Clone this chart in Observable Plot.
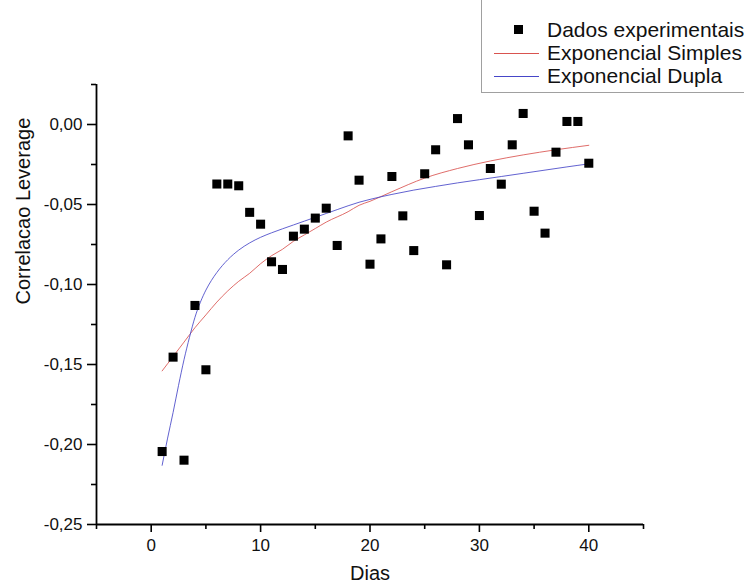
<!DOCTYPE html>
<html>
<head>
<meta charset="utf-8">
<script src="https://cdn.jsdelivr.net/npm/d3@7"></script>
<script src="https://cdn.jsdelivr.net/npm/@observablehq/plot@0.6"></script>
<style>
  html, body { margin: 0; padding: 0; background: #fff; overflow: hidden; }
  #wrap { position: relative; width: 744px; height: 588px; font-family: "Liberation Sans", Arial, sans-serif; }
  #legend { position: absolute; left: 481px; top: -12px; width: 300px; height: 103px; border: 1px solid #a0a0a0; background: #fff; }
  .row { position: absolute; left: 0; height: 23px; font-size: 21px; color: #111; white-space: nowrap; }
  .row span.t { position: absolute; left: 65px; top: 0; line-height: 23px; }
  .sq { position: absolute; left: 32px; top: 7px; width: 9px; height: 9px; background: #000; }
  .ln { position: absolute; left: 12px; width: 45px; top: 12px; height: 0; border-top-width: 1px; border-top-style: solid; }
</style>
</head>
<body>
<div id="wrap">
  <div id="chart"></div>
  <div id="legend"></div>
</div>
<script>
// Observed data (Dados experimentais)
const dias = [1,2,3,4,5,6,7,8,9,10,11,12,13,14,15,16,17,18,19,20,21,22,23,24,25,26,27,28,29,30,31,32,33,34,35,36,37,38,39,40];
const correlacao = [-0.2044,-0.1454,-0.2098,-0.1131,-0.1533,-0.0372,-0.0372,-0.0383,-0.0549,-0.0623,
  -0.0858,-0.0906,-0.0698,-0.0654,-0.0585,-0.0523,-0.0756,-0.0071,-0.0348,-0.0873,
  -0.0715,-0.0325,-0.0571,-0.0788,-0.0308,-0.0158,-0.0877,0.0037,-0.0127,-0.0569,
  -0.0275,-0.0373,-0.0127,0.0069,-0.0542,-0.0679,-0.0173,0.0019,0.0019,-0.0242];

// Exponencial Simples (red fitted curve)
const diasSimples = [1,2,3,4,5,6,7,8,9,10,11,12,13,14,15,16,18,19,20,22,25,28,31,34,37,40];
const simples = [-0.154,-0.145,-0.136,-0.127,-0.119,-0.111,-0.104,-0.098,-0.093,-0.087,-0.082,-0.078,-0.073,-0.069,-0.065,-0.061,-0.0545,-0.0505,-0.048,-0.042,-0.0335,-0.0275,-0.0228,-0.019,-0.0158,-0.013];

// Exponencial Dupla (blue fitted curve)
const diasDupla = [1,1.5,2,2.5,3,3.5,4,4.5,5,5.5,6,7,8,9,10,11,12,13,14,15,16,17,18,19,20,22,24,26,28,30,32,34,36,38,40];
const dupla = [-0.213,-0.196,-0.180,-0.163,-0.147,-0.133,-0.1205,-0.111,-0.1035,-0.0975,-0.0925,-0.0845,-0.0785,-0.074,-0.0705,-0.0677,-0.0652,-0.0628,-0.0604,-0.058,-0.0556,-0.0532,-0.0508,-0.0486,-0.0468,-0.0437,-0.041,-0.0387,-0.0365,-0.0345,-0.0325,-0.0305,-0.0285,-0.0265,-0.0246];

const xMajor = [0,10,20,30,40];
const xMinor = [-5,5,15,25,35,45];
const yMajor = [0,-0.05,-0.10,-0.15,-0.20,-0.25];
const yMinor = [0.025,-0.025,-0.075,-0.125,-0.175,-0.225];

const xLabel = "Dias";
const yLabel = "Correlacao Leverage";
const legendItems = [
  {label: "Dados experimentais", type: "square", color: "#000"},
  {label: "Exponencial Simples", type: "line", color: "#d9534f"},
  {label: "Exponencial Dupla", type: "line", color: "#4646c8"}
];

const obs = dias.map((d, i) => ({x: d, y: correlacao[i]}));
const sim = diasSimples.map((d, i) => ({x: d, y: simples[i]}));
const dup = diasDupla.map((d, i) => ({x: d, y: dupla[i]}));

const fmt = v => d3.format(".2f")(v).replace(".", ",").replace("\u2212", "-");

const chart = Plot.plot({
  width: 744,
  height: 588,
  marginLeft: 96,
  marginRight: 101,
  marginTop: 84,
  marginBottom: 64,
  style: {fontFamily: "'Liberation Sans', Arial, sans-serif", background: "#fff", color: "#000"},
  x: {domain: [-5, 45]},
  y: {domain: [-0.25, 0.025]},
  marks: [
    Plot.axisX(xMajor, {tickSize: 8, tickPadding: 6, tickFormat: d => String(d), fontSize: 17, label: null, strokeWidth: 1.6, fill: "#111"}),
    Plot.axisX(xMinor, {tickSize: 5, text: null, label: null, strokeWidth: 1.6}),
    Plot.axisY(yMajor, {tickSize: 9, tickPadding: 5, tickFormat: fmt, fontSize: 17, label: null, strokeWidth: 1.6, fill: "#111"}),
    Plot.axisY(yMinor, {tickSize: 5, text: null, label: null, strokeWidth: 1.6}),
    Plot.ruleY([-0.25], {stroke: "#000", strokeWidth: 1.8}),
    Plot.ruleX([-5], {stroke: "#000", strokeWidth: 1.8}),
    Plot.line(sim, {x: "x", y: "y", stroke: legendItems[1].color, strokeWidth: 0.85, curve: "monotone-x"}),
    Plot.line(dup, {x: "x", y: "y", stroke: legendItems[2].color, strokeWidth: 0.85, curve: "monotone-x"}),
    Plot.dot(obs, {x: "x", y: "y", symbol: "square", r: 5.1, fill: "#000", stroke: null}),
    Plot.text([xLabel], {frameAnchor: "bottom", dy: 55, fontSize: 20, fill: "#111"}),
    Plot.text([yLabel], {frameAnchor: "left", dx: -73, rotate: -90, fontSize: 20, fill: "#111"})
  ]
});
document.getElementById("chart").appendChild(chart);

// Legend (HTML, above the plot area)
const leg = document.getElementById("legend");
legendItems.forEach((it, i) => {
  const row = document.createElement("div");
  row.className = "row";
  row.style.top = (29 + i * 23) + "px";
  row.style.width = "300px";
  if (it.type === "square") {
    const s = document.createElement("div"); s.className = "sq"; s.style.background = it.color; row.appendChild(s);
  } else {
    const l = document.createElement("div"); l.className = "ln"; l.style.borderTopColor = it.color; row.appendChild(l);
  }
  const t = document.createElement("span"); t.className = "t"; t.textContent = it.label; row.appendChild(t);
  leg.appendChild(row);
});
</script>
</body>
</html>
